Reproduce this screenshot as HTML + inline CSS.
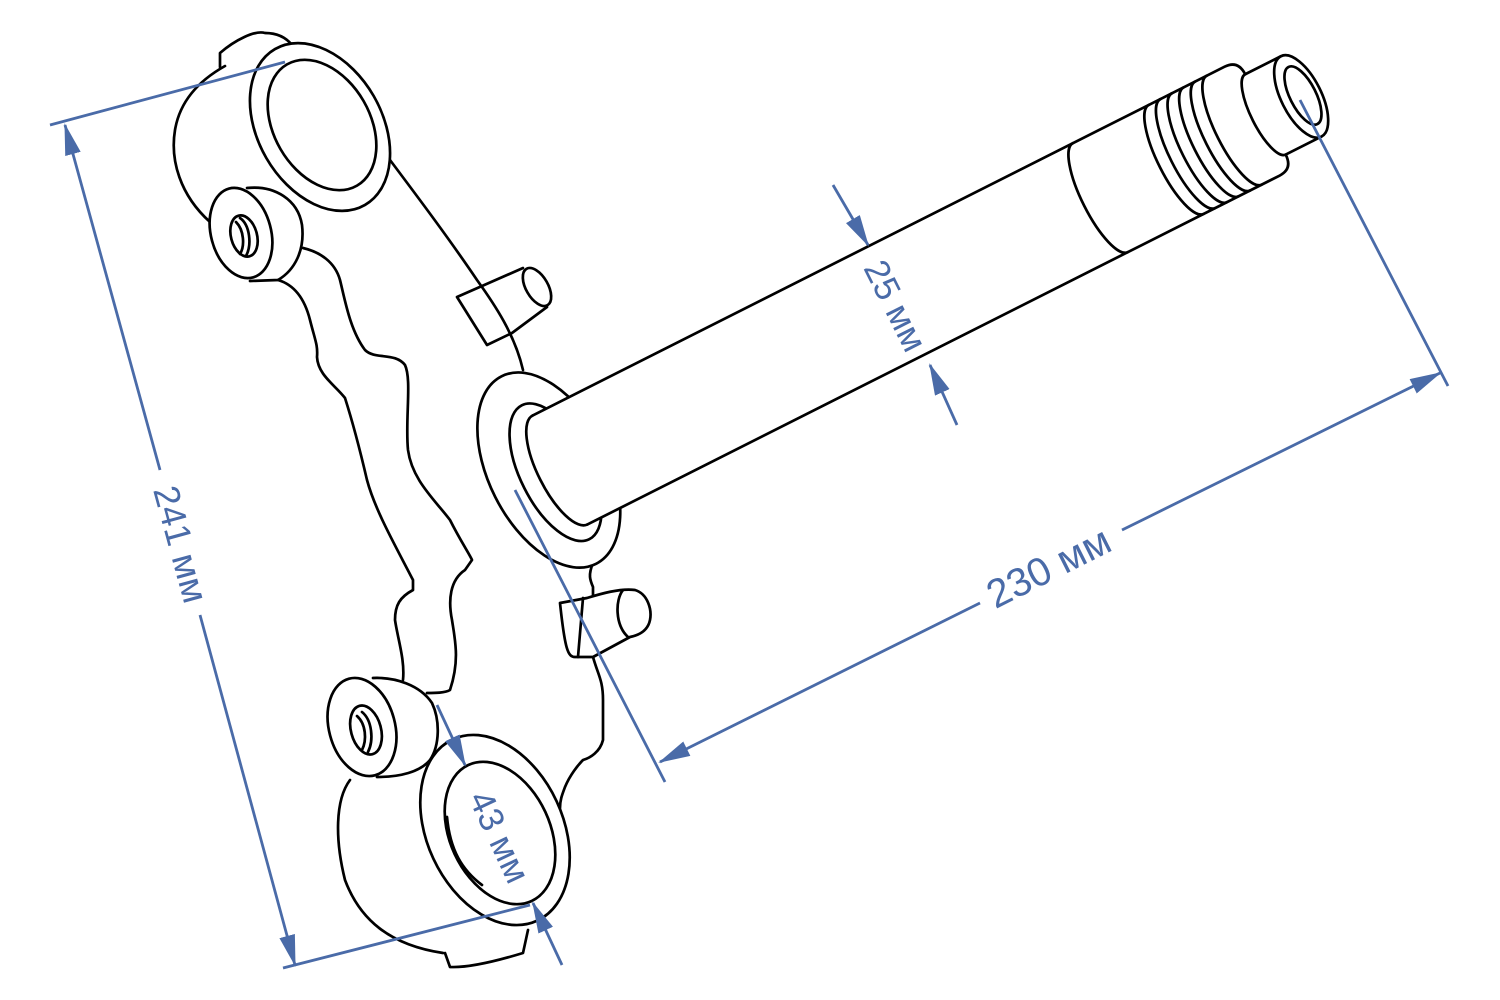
<!DOCTYPE html>
<html><head><meta charset="utf-8"><style>
html,body{margin:0;padding:0;background:#fff;}
svg{display:block;}
text{font-family:"Liberation Sans",sans-serif;fill:#4a6ba8;}
</style></head><body>
<svg width="1500" height="1000" viewBox="0 0 1500 1000" xmlns="http://www.w3.org/2000/svg">
<defs>
<marker id="ar" markerWidth="32" markerHeight="16" refX="30" refY="8" orient="auto-start-reverse" markerUnits="userSpaceOnUse">
<path d="M0,0 L32,8 L0,16 Z" fill="#4a6ba8"/>
</marker>
</defs>
<g fill="none" stroke="#000" stroke-width="2.7" stroke-linecap="round" stroke-linejoin="round">
<!-- upper clamp -->
<path d="M220,67 L220,53 C235,40 255,30 265,33 C280,33 288,40 292,45"/>
<path d="M210,222 C180,195 170,160 175,130 C180,100 200,80 225,66"/>
<ellipse cx="320" cy="127" rx="62" ry="90" transform="rotate(-30 320 127)" fill="#fff"/>
<ellipse cx="322" cy="125" rx="48" ry="70" transform="rotate(-30 322 125)"/>
<path d="M390,160 C420,200 450,240 477,280 C495,305 515,335 523,370"/>
<!-- upper boss -->
<path d="M247,188 C275,185 298,200 302,225 C305,250 295,270 278,280 L250,281" fill="#fff"/>
<ellipse cx="241" cy="233" rx="30" ry="46" transform="rotate(-15 241 233)" fill="#fff"/>
<ellipse cx="244" cy="236" rx="13" ry="21" transform="rotate(-15 244 236)"/>
<path d="M240,218 C250,225 252,245 246,256 M236,222 C244,230 245,246 240,254"/>
<!-- body lines -->
<path d="M303,248 C320,252 335,262 340,280 C345,300 350,330 365,350 C375,360 395,352 405,365 C412,380 405,420 408,450 C412,480 435,500 450,520 C460,540 470,555 472,560 L465,570 C450,580 448,600 452,620 C455,640 460,660 450,690 C445,693 435,693 427,693"/>
<path d="M278,280 C295,285 305,300 310,320 C315,340 318,345 317,357 C318,375 335,385 345,398 C352,420 360,450 367,480 C375,510 395,545 413,580 L413,590 C400,597 395,605 395,620 C398,640 405,660 403,680"/>
<path d="M617,520 C618,540 610,555 593,563 C588,575 590,580 593,587 L593,600"/>
<path d="M593,657 C598,675 603,680 603,700 L603,740 C600,752 590,758 583,760 C578,765 570,775 565,787 C562,795 560,800 560,808"/>
<!-- tab 1 -->
<path d="M457,297 L487,345 L512,333 L547,307 M457,297 L523,268" fill="none"/>
<ellipse cx="537" cy="287" rx="11" ry="21" transform="rotate(-30 537 287)"/>
<!-- tab 2 -->
<path d="M560,603 L587,598 C600,594 620,588 635,590 C648,594 652,610 650,620 C648,630 640,635 630,637 L593,657 L575,657 C568,657 565,650 560,603 Z" fill="#fff"/>
<path d="M623,590 C615,600 615,625 628,637 M583,598 L578,657"/>
<!-- lower boss -->
<path d="M373,678 C395,677 420,685 432,703 C440,720 440,745 430,760 C420,772 400,777 377,777" fill="#fff"/>
<ellipse cx="362" cy="727" rx="33" ry="50" transform="rotate(-15 362 727)" fill="#fff"/>
<ellipse cx="366" cy="730" rx="15" ry="25" transform="rotate(-15 366 730)"/>
<path d="M362,712 C372,720 374,740 368,752 M357,716 C366,724 367,740 362,750"/>
<!-- lower clamp -->
<path d="M350,780 C335,800 335,840 345,880 C360,920 390,945 443,953"/>
<path d="M445,953 L450,967 C470,968 500,960 523,953 L528,930"/>
<ellipse cx="495" cy="830" rx="68" ry="100" transform="rotate(-25 495 830)" fill="#fff"/>
<ellipse cx="500" cy="833" rx="50" ry="75" transform="rotate(-25 500 833)"/>
<path d="M447,817 C450,850 462,870 482,885"/>
<!-- shaft -->
<g transform="translate(560,470) rotate(-26.75)">
<ellipse cx="-10" cy="-5" rx="60" ry="105" fill="#fff"/>
<ellipse cx="-5" cy="0" rx="35" ry="75" fill="#fff"/>
<path d="M0,-61 L775,-61 C788,-61 790,-52 790,-45 L830,-45 L830,45 L790,45 C790,52 788,61 775,61 L0,61 Z" fill="#fff" stroke="none"/>
<path d="M0,-61 A22,61 0 0 0 0,61"/>
<path d="M0,-61 L775,-61 C788,-61 790,-52 790,-45 L830,-45 M0,61 L775,61 C788,61 790,52 790,45 L830,45"/>
<path d="M605,-61 A18,61 0 0 0 605,61"/>
<path d="M690,-61 A18,61 0 0 0 690,61 M703,-61 A18,61 0 0 0 703,61 M716,-61 A18,61 0 0 0 716,61 M729,-61 A18,61 0 0 0 729,61 M742,-61 A18,61 0 0 0 742,61 M755,-61 A18,61 0 0 0 755,61"/>
<path d="M790,-45 A14,45 0 0 0 790,45"/>
<ellipse cx="830" cy="0" rx="20" ry="45" fill="#fff"/>
<ellipse cx="832" cy="0" rx="13" ry="32"/>
</g>
</g>
<!-- dimensions -->
<g stroke="#4a6ba8" stroke-width="2.8" fill="none">
<path d="M50,125 L285,62 M283,968 L530,905"/>
<path d="M160,470 L65,125" marker-end="url(#ar)"/>
<path d="M200,615 L295,965" marker-end="url(#ar)"/>
<path d="M515,490 L665,782 M1300,100 L1448,386"/>
<path d="M980,603 L660,762" marker-end="url(#ar)"/>
<path d="M1122,530 L1440,373" marker-end="url(#ar)"/>
<path d="M833,185 L868,245" marker-end="url(#ar)"/>
<path d="M957,425 L930,365" marker-end="url(#ar)"/>
<path d="M437,705 L465,765" marker-end="url(#ar)"/>
<path d="M562,965 L533,903" marker-end="url(#ar)"/>
</g>
<text x="0" y="0" font-size="36" text-anchor="middle" dominant-baseline="middle" transform="translate(178,545) rotate(74.7)">241 мм</text>
<text x="0" y="0" font-size="40" text-anchor="middle" dominant-baseline="middle" transform="translate(1050,570) rotate(-26.7)">230 мм</text>
<text x="0" y="0" font-size="35" text-anchor="middle" dominant-baseline="middle" transform="translate(893,307) rotate(63.3)">25 мм</text>
<text x="0" y="0" font-size="35" text-anchor="middle" dominant-baseline="middle" transform="translate(497,838) rotate(65)">43 мм</text>
</svg>
</body></html>
